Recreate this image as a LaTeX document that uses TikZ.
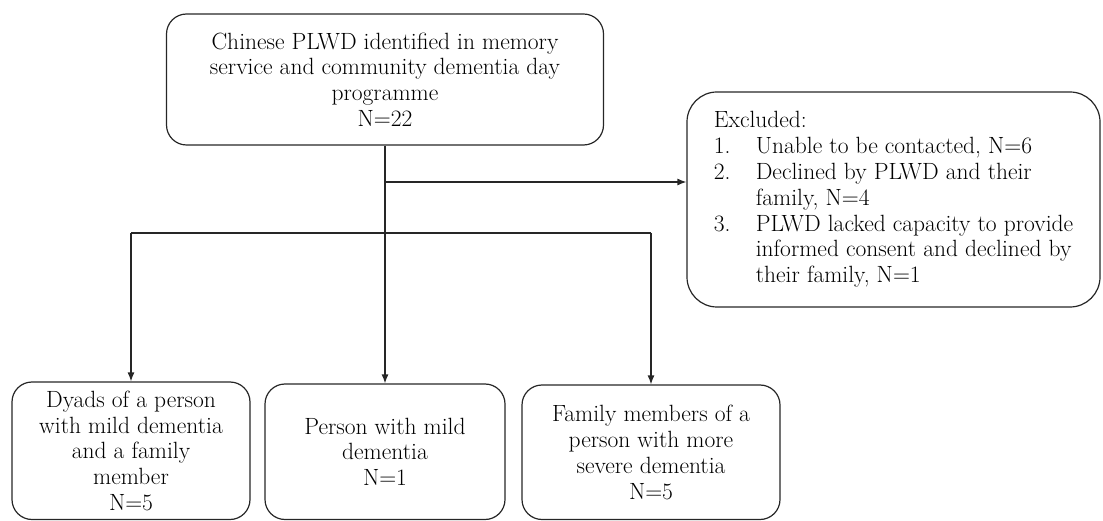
\documentclass[tikz,border=0pt]{standalone}
\usetikzlibrary{arrows.meta}
\begin{document}
\begin{tikzpicture}[x=1pt,y=-1pt,
  box/.style={draw=black!85, line width=1.2pt, align=center, inner sep=0pt,
    font=\fontsize{23.5}{25.8}\selectfont, text=black},
  conn/.style={draw=black!85, line width=1.2pt},
  arr/.style={conn, -{Latex[length=9pt,width=7pt]}}]
\useasboundingbox (0,0) rectangle (1103,521);
\node[box, rounded corners=20pt, minimum width=437pt, minimum height=131pt] (top) at (385,79.5)
  {Chinese PLWD identified in memory\\service and community dementia day\\programme\\N=22};
\node[box, rounded corners=30pt, minimum width=413pt, minimum height=215pt, align=left] (excl) at (893.5,199.5)
  {Excluded:\\
   \makebox[42pt][l]{1.}Unable to be contacted, N=6\\
   \makebox[42pt][l]{2.}Declined by PLWD and their\\
   \hspace*{42pt}family, N=4\\
   \makebox[42pt][l]{3.}PLWD lacked capacity to provide\\
   \hspace*{42pt}informed consent and declined by\\
   \hspace*{42pt}their family, N=1};
\node[box, rounded corners=20pt, minimum width=238pt, minimum height=137.5pt] (left) at (131,450.75)
  {Dyads of a person\\with mild dementia\\and a family\\member\\N=5};
\node[box, rounded corners=20pt, minimum width=240pt, minimum height=135.5pt] (mid) at (385,451.75)
  {Person with mild\\dementia\\N=1};
\node[box, rounded corners=20pt, minimum width=258pt, minimum height=134.5pt] (right) at (651,452.25)
  {Family members of a\\person with more\\severe dementia\\N=5};
\coordinate (br) at (385,182);
\coordinate (bus) at (385,233);
\draw[arr] (top.south) -- (mid.north);
\draw[arr] (br) -- (br -| excl.west);
\draw[conn] (left.north |- bus) -- (right.north |- bus);
\draw[arr] (left.north |- bus) -- (left.north);
\draw[arr] (right.north |- bus) -- (right.north);
\end{tikzpicture}
\end{document}
